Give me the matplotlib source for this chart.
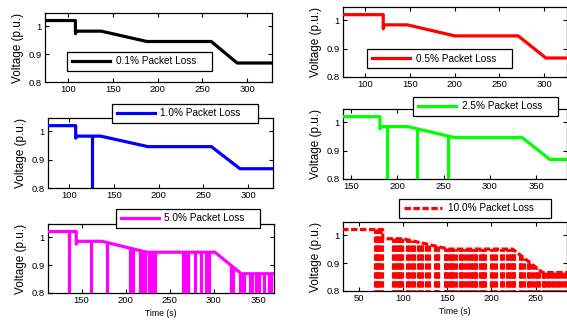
import numpy as np
import matplotlib
matplotlib.use('Agg')
import matplotlib.pyplot as plt
from matplotlib.patches import Polygon

plt.rcParams['font.family'] = ['Liberation Sans', 'DejaVu Sans']

W, H = 567, 322

# voltage profiles (breakpoints) and packet-loss drop times
t_01 = [74, 108, 108, 109.5, 137, 188, 260, 289, 328]
v_01 = [1.02, 1.02, 0.973, 0.982, 0.982, 0.945, 0.945, 0.868, 0.868]
drops_01 = []

t_05 = [74, 120, 120, 121.5, 147, 200, 271, 302, 326]
v_05 = [1.02, 1.02, 0.970, 0.984, 0.984, 0.945, 0.945, 0.867, 0.867]
drops_05 = []

t_10 = [75, 107, 107, 108.5, 135, 188, 259, 291, 329]
v_10 = [1.02, 1.02, 0.976, 0.983, 0.983, 0.946, 0.946, 0.868, 0.868]
drops_10 = [125.5]

t_25 = [140, 181, 181, 183, 211, 262, 335, 365, 384]
v_25 = [1.02, 1.02, 0.977, 0.985, 0.985, 0.946, 0.946, 0.869, 0.869]
drops_25 = [189, 221, 255]

t_50 = [111, 144, 144, 146, 173, 224, 301, 331, 369]
v_50 = [1.02, 1.02, 0.975, 0.985, 0.985, 0.946, 0.946, 0.869, 0.869]
drops_50 = [136, 161, 179, 205, 208, 216, 219, 222, 226, 230, 233,
            265, 267, 269, 271, 279, 285, 291, 294, 319, 321,
            330, 332, 334, 341, 343, 348, 351, 357, 362, 365]

t_100 = [31, 77, 77, 100, 152, 224, 258, 286]
v_100 = [1.02, 1.02, 0.987, 0.987, 0.950, 0.950, 0.866, 0.866]
drops_100 = [68, 70, 72, 74, 76,
             89, 91, 93, 95, 97, 99,
             105, 107, 110, 112,
             117, 119, 121,
             126, 129,
             136, 138, 140,
             147, 149, 151, 153, 155, 157, 160,
             164, 166, 168, 171,
             175, 177, 179, 181, 183,
             187, 189, 191, 193,
             200, 202, 205,
             211, 213,
             218, 220, 222, 224, 226,
             232, 234, 237,
             241, 243, 246,
             249, 252, 254,
             258, 260, 263, 265,
             269, 271, 274, 277,
             280, 283]

yticks = [0.8, 0.9, 1.0]
ytick_labels = ['0.8', '0.9', '1']
xticks_a = [100, 150, 200, 250, 300]
xticks_b = [150, 200, 250, 300, 350]
xticks_c = [50, 100, 150, 200, 250]

FS = 7.2
LW = 2.3
DASH = (2.0, 0.8)


def px_rect(l, t, r, b):
    return [l / W, 1 - b / H, (r - l) / W, (b - t) / H]


def panel(fig, rect, t, v, drops, color, xlim, xticks, label, leg_rect,
          dashed=False, xlabel=False):
    ax = fig.add_axes(px_rect(*rect))
    ls = dict(dashes=DASH) if dashed else {}
    line, = ax.plot(t, v, color=color, lw=LW, label=label, zorder=3, **ls)
    if drops:
        # vertical drops, cut off at the profile line
        poly = Polygon(np.column_stack([list(t) + [t[-1], t[0]],
                                        list(v) + [0.7, 0.7]]),
                       closed=True, transform=ax.transData)
        vl = ax.vlines(drops, 0.75, 1.1, colors=color, lw=LW,
                       linestyles=(0, DASH) if dashed else 'solid',
                       zorder=3)
        vl.set_clip_path(poly)
    ax.set_xlim(*xlim)
    ax.set_ylim(0.8, 1.047)
    ax.set_xticks(xticks)
    ax.set_yticks(yticks)
    ax.set_yticklabels(ytick_labels)
    ax.tick_params(direction='in', top=True, right=True, length=3, width=0.8,
                   labelsize=6.8, pad=2.5)
    for s in ax.spines.values():
        s.set_linewidth(0.9)
    ax.set_ylabel('Voltage (p.u.)', fontsize=8.5, labelpad=3)
    if xlabel:
        ax.set_xlabel('Time (s)', fontsize=6.2, labelpad=2.5)
    l, tp, r, b = leg_rect
    fig.legend(handles=[line], loc='center',
               bbox_to_anchor=(l / W, 1 - b / H, (r - l) / W, (b - tp) / H),
               bbox_transform=fig.transFigure, mode='expand', borderaxespad=0,
               fontsize=FS, handlelength=3.8, handletextpad=0.6,
               borderpad=0.45, fancybox=False, framealpha=1,
               edgecolor='black').get_frame().set_linewidth(0.9)
    return ax


fig = plt.figure(figsize=(W / 100, H / 100), dpi=100)

panel(fig, (45, 13, 272, 82), t_01, v_01, drops_01, 'black', (74, 328),
      xticks_a, '0.1% Packet Loss', (67, 51, 212, 72))
panel(fig, (343, 7, 566.5, 77), t_05, v_05, drops_05, '#ff0000', (75, 325),
      xticks_a, '0.5% Packet Loss', (367, 47, 512, 70))
panel(fig, (48, 118, 273, 188), t_10, v_10, drops_10, '#0000ff', (76, 328),
      xticks_a, '1.0% Packet Loss', (112, 102, 258, 124))
panel(fig, (343, 109, 566.5, 179), t_25, v_25, drops_25, '#00ff00', (141, 383),
      xticks_b, '2.5% Packet Loss', (413, 96, 558, 116))
panel(fig, (48, 224, 274, 293), t_50, v_50, drops_50, '#ff00ff', (112, 368),
      xticks_b, '5.0% Packet Loss', (116, 207, 260, 229), xlabel=True)
panel(fig, (343, 222, 566.5, 291), t_100, v_100, drops_100, '#ff0000', (32, 285),
      xticks_c, '10.0% Packet Loss', (399, 198, 551, 218), dashed=True,
      xlabel=True)

fig.savefig('out.png', dpi=100)
